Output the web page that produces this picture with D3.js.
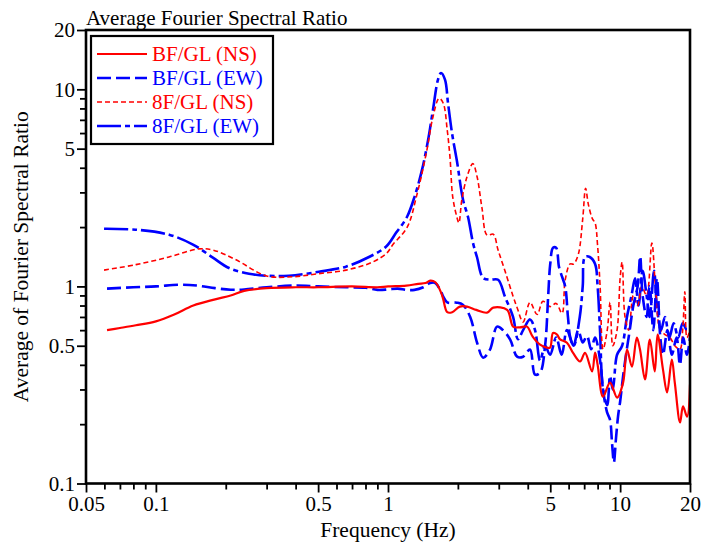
<!DOCTYPE html>
<html>
<head>
<meta charset="utf-8">
<script src="https://cdn.jsdelivr.net/npm/d3@7"></script>
<style>
  html, body { margin: 0; padding: 0; background: #fff; }
  svg, svg text { font-family: "Liberation Serif", "Times New Roman", serif !important; }
</style>
</head>
<body>
<svg width="701" height="544"></svg>
<script>
// data: [frequency Hz, ratio]
const bfNs = [
  [0.0616,0.60],[0.07,0.615],[0.082,0.635],[0.1,0.665],[0.12,0.72],[0.145,0.80],[0.18,0.86],
  [0.21,0.90],[0.24,0.95],[0.3,0.98],[0.4,0.99],[0.5,0.99],[0.7,1.0],[0.9,0.99],[1.0,1.0],
  [1.2,1.01],[1.35,1.03],[1.45,1.04],[1.52,1.07],[1.6,1.05],[1.7,0.92],[1.73,0.86],[1.8,0.74],
  [1.89,0.74],[2.04,0.79],[2.19,0.79],[2.4,0.76],[2.67,0.736],[2.84,0.78],[3.26,0.76],
  [3.46,0.625],[3.7,0.62],[3.97,0.625],[4.2,0.556],[4.52,0.506],[4.8,0.49],[4.99,0.489],
  [5.14,0.58],[5.35,0.57],[5.5,0.54],[5.9,0.518],[6.27,0.46],[6.72,0.416],[7.06,0.46],
  [7.57,0.37],[7.8,0.461],[8.0,0.40],[8.44,0.276],[9.05,0.325],[9.71,0.273],[10.3,0.325],
  [10.71,0.478],[11.24,0.392],[11.8,0.55],[12.18,0.478],[12.8,0.337],[13.43,0.537],[14.1,0.37],
  [14.5,0.569],[15.3,0.378],[15.93,0.29],[16.7,0.425],[17.2,0.325],[18.12,0.204],[18.66,0.246],
  [19.43,0.2185],[20,0.318]
];
const bfEw = [
  [0.0616,0.975],[0.08,0.99],[0.1,1.0],[0.126,1.02],[0.15,1.01],[0.18,0.98],[0.21,0.962],
  [0.24,0.965],[0.3,0.99],[0.4,1.01],[0.5,1.0],[0.66,0.99],[0.8,0.985],[0.9,0.96],[1.0,0.965],
  [1.1,0.975],[1.2,0.96],[1.3,0.96],[1.42,0.99],[1.52,1.04],[1.6,1.04],[1.7,0.93],[1.73,0.887],
  [1.8,0.83],[1.98,0.827],[2.1,0.808],[2.26,0.70],[2.42,0.518],[2.57,0.435],[2.75,0.478],
  [2.95,0.625],[3.13,0.6],[3.36,0.537],[3.6,0.44],[3.82,0.44],[4.09,0.478],[4.3,0.357],
  [4.52,0.365],[4.75,0.50],[4.9,0.9],[5.0,1.3],[5.14,1.57],[5.3,1.57],[5.45,1.26],[5.62,1.12],
  [5.8,1.0],[5.96,0.70],[6.1,0.55],[6.3,0.5],[6.6,0.6],[6.9,0.52],[7.2,0.56],[7.5,0.48],
  [7.8,0.55],[8.2,0.42],[8.44,0.3],[8.78,0.23],[9.05,0.21],[9.23,0.16],[9.4,0.128],[9.6,0.17],
  [9.8,0.22],[10.0,0.26],[10.3,0.35],[10.6,0.45],[11.0,0.6],[11.4,0.8],[11.9,1.0],[12.2,1.42],
  [12.5,0.9],[13.0,0.7],[13.4,1.0],[13.9,0.6],[14.4,1.1],[14.9,0.55],[15.3,0.45],[16.0,0.6],
  [16.7,0.45],[17.5,0.55],[18.1,0.4],[18.7,0.55],[19.4,0.45],[20,0.55]
];
const f8Ns = [
  [0.0598,1.21],[0.082,1.29],[0.114,1.41],[0.153,1.55],[0.176,1.53],[0.22,1.37],[0.30,1.13],
  [0.39,1.12],[0.50,1.16],[0.66,1.21],[0.86,1.33],[0.99,1.48],[1.05,1.63],[1.21,2.0],[1.33,2.9],
  [1.47,4.9],[1.56,7.2],[1.66,9.0],[1.73,8.5],[1.8,6.2],[1.85,4.5],[1.9,2.85],[1.98,2.25],
  [2.02,2.1],[2.08,2.75],[2.19,3.6],[2.32,4.2],[2.42,3.6],[2.54,2.5],[2.67,1.82],[2.84,1.84],
  [2.98,1.53],[3.19,1.2],[3.46,0.89],[3.6,0.78],[3.82,0.66],[4.09,0.83],[4.39,0.72],[4.65,0.84],
  [4.99,0.79],[5.3,0.82],[5.62,0.73],[5.8,1.08],[6.09,1.3],[6.3,1.3],[6.6,1.45],[6.9,2.2],
  [7.1,3.15],[7.3,2.6],[7.6,2.2],[7.8,2.1],[8.0,1.6],[8.2,1.0],[8.44,0.48],[8.8,0.6],[9.05,0.83],
  [9.3,0.5],[9.7,0.6],[10.0,1.1],[10.2,1.33],[10.5,0.7],[10.9,0.6],[11.4,0.9],[11.9,0.8],
  [12.4,1.0],[13.0,0.9],[13.7,1.66],[14.2,1.0],[14.9,0.6],[15.6,0.57],[16.4,0.55],[17.2,0.5],
  [18.1,0.48],[18.6,0.6],[19.0,0.94],[19.4,0.55],[20,0.6]
];
const f8Ew = [
  [0.0598,1.96],[0.082,1.94],[0.114,1.83],[0.1445,1.63],[0.176,1.40],[0.2065,1.24],[0.252,1.16],
  [0.298,1.133],[0.3745,1.133],[0.504,1.187],[0.659,1.26],[0.828,1.41],[0.98,1.59],[1.083,1.87],
  [1.207,2.25],[1.307,2.9],[1.401,3.9],[1.487,5.5],[1.563,7.9],[1.642,11.2],[1.692,12.1],
  [1.76,11.2],[1.814,8.5],[1.887,6.0],[1.983,4.3],[2.105,2.75],[2.212,2.25],[2.324,1.66],
  [2.417,1.41],[2.566,1.107],[2.75,1.081],[2.98,1.081],[3.19,0.887],[3.457,0.70],[3.63,0.54],
  [3.82,0.6],[4.09,0.68],[4.3,0.6],[4.52,0.42],[4.75,0.5],[4.99,0.45],[5.3,0.55],[5.6,0.45],
  [5.9,0.6],[6.3,0.5],[6.7,0.7],[6.9,1.0],[7.06,1.41],[7.4,1.41],[7.8,1.3],[8.0,1.0],[8.19,0.6],
  [8.44,0.3],[8.8,0.25],[9.05,0.35],[9.3,0.3],[9.7,0.45],[10.2,0.5],[10.7,0.7],[11.2,0.9],
  [11.6,1.1],[12.0,0.8],[12.5,1.2],[13.0,0.9],[13.4,0.7],[14.0,1.2],[14.4,0.8],[15.0,0.6],
  [15.6,0.7],[16.3,0.55],[17.0,0.65],[17.8,0.55],[18.6,0.65],[19.4,0.6],[20,0.62]
];

const seriesNames = ["BF/GL (NS)", "BF/GL (EW)", "8F/GL (NS)", "8F/GL (EW)"];
const xMajor = [0.05, 0.1, 0.5, 1, 5, 10, 20];
const xMinor = [0.06,0.07,0.08,0.09,0.2,0.3,0.4,0.6,0.7,0.8,0.9,2,3,4,6,7,8,9];
const yMajor = [0.1, 0.5, 1, 5, 10, 20];
const yMinor = [0.2,0.3,0.4,0.6,0.7,0.8,0.9,2,3,4,6,7,8,9];

const serif = "'Liberation Serif', 'Times New Roman', serif";
const svg = d3.select("svg").attr("font-family", serif);
const box = {left: 86, right: 690, top: 30, bottom: 483.5};

const x = d3.scaleLog().domain([0.05, 20]).range([box.left, box.right]);
const y = d3.scaleLog().domain([0.1, 20]).range([box.bottom, box.top]);

const styles = [
  {data: bfNs, color: "#ff0000", width: 2.2, dash: null},
  {data: bfEw, color: "#0000ff", width: 2.6, dash: "14,5"},
  {data: f8Ns, color: "#ff0000", width: 1.6, dash: "5,3"},
  {data: f8Ew, color: "#0000ff", width: 2.6, dash: "24,4,5,4"}
];

svg.append("defs").append("clipPath").attr("id", "plot")
  .append("rect").attr("x", box.left).attr("y", box.top)
  .attr("width", box.right - box.left).attr("height", box.bottom - box.top);

const line = d3.line()
  .x(d => x(d[0]))
  .y(d => y(d[1]))
  .curve(d3.curveCatmullRom.alpha(0.5));

const plot = svg.append("g").attr("clip-path", "url(#plot)");
// draw back to front
[3, 2, 1, 0].forEach(i => {
  const s = styles[i];
  plot.append("path")
    .attr("d", line(s.data))
    .attr("fill", "none")
    .attr("stroke", s.color)
    .attr("stroke-width", s.width)
    .attr("stroke-dasharray", s.dash)
    .attr("stroke-linejoin", "round");
});

// axes
const fmt = d => String(d);
function styleAxis(g) {
  g.attr("font-family", serif).attr("font-size", 21);
  g.select(".domain").remove();
  g.selectAll(".tick line").attr("stroke", "#000").attr("stroke-width", 1.8);
  g.selectAll(".tick text").attr("fill", "#000").attr("font-family", serif);
}
svg.append("g").attr("transform", `translate(0,${box.bottom})`)
  .call(d3.axisBottom(x).tickValues(xMajor).tickSize(9).tickPadding(4).tickFormat(fmt))
  .call(styleAxis);
svg.append("g").attr("transform", `translate(0,${box.bottom})`)
  .call(d3.axisBottom(x).tickValues(xMinor).tickSize(6).tickFormat(""))
  .call(styleAxis);
svg.append("g").attr("transform", `translate(${box.left},0)`)
  .call(d3.axisLeft(y).tickValues(yMajor).tickSize(9).tickPadding(2).tickFormat(fmt))
  .call(styleAxis);
svg.append("g").attr("transform", `translate(${box.left},0)`)
  .call(d3.axisLeft(y).tickValues(yMinor).tickSize(6).tickFormat(""))
  .call(styleAxis);

// frame
svg.append("rect")
  .attr("x", box.left).attr("y", box.top)
  .attr("width", box.right - box.left).attr("height", box.bottom - box.top)
  .attr("fill", "none").attr("stroke", "#000").attr("stroke-width", 2.6);

// titles
svg.append("text").attr("x", box.left).attr("y", 25)
  .attr("font-size", 21).text("Average Fourier Spectral Ratio");
svg.append("text").attr("x", (box.left + box.right) / 2).attr("y", 537)
  .attr("text-anchor", "middle").attr("font-size", 21.5).text("Frequency (Hz)");
svg.append("text")
  .attr("transform", `translate(28,${(box.top + box.bottom) / 2}) rotate(-90)`)
  .attr("text-anchor", "middle").attr("font-size", 21.5)
  .text("Average of Fourier Spectral Ratio");

// legend
const lg = svg.append("g");
lg.append("rect").attr("x", 91).attr("y", 36).attr("width", 182).attr("height", 108)
  .attr("fill", "#fff").attr("stroke", "#000").attr("stroke-width", 2.2);
styles.forEach((s, i) => {
  const yy = 54 + i * 24;
  lg.append("line").attr("x1", 97).attr("x2", 147).attr("y1", yy).attr("y2", yy)
    .attr("stroke", s.color).attr("stroke-width", s.width).attr("stroke-dasharray", s.dash);
  lg.append("text").attr("x", 152).attr("y", yy + 7).attr("font-size", 21)
    .attr("fill", s.color).text(seriesNames[i]);
});
</script>
</body>
</html>
